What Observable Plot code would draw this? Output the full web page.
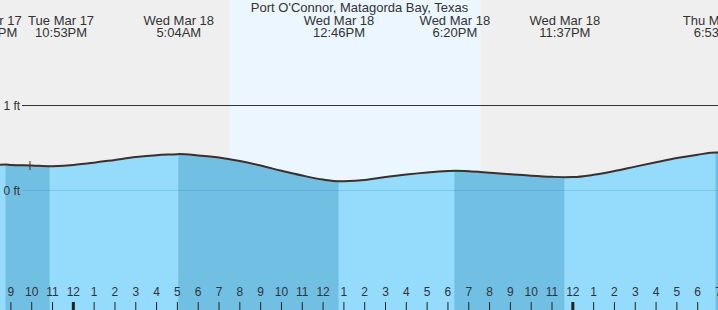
<!DOCTYPE html>
<html><head><meta charset="utf-8">
<script src="https://cdn.jsdelivr.net/npm/d3@7"></script>
<script src="https://cdn.jsdelivr.net/npm/@observablehq/plot@0.6"></script>
<style>
html,body{margin:0;padding:0;background:#fff;}
#chart svg{display:block;}
</style></head><body><div id="chart"></div>
<script>
const title = "Port O'Connor, Matagorda Bay, Texas";
const domainStart = "2026-03-17T20:30";
const domainEnd = "2026-03-19T07:00";
const sunrise = "2026-03-18T07:32";
const sunset = "2026-03-18T19:36";
const nowTime = "2026-03-17T21:55";
const nowLevel = 0.288;

// high / low tide events
const eventTimes = ["2026-03-17T20:46", "2026-03-17T22:53", "2026-03-18T05:04", "2026-03-18T12:46", "2026-03-18T18:20", "2026-03-18T23:37", "2026-03-19T06:53"];
const eventTypes = ["H", "L", "H", "L", "H", "L", "H"];
const eventLevels = [0.305, 0.285, 0.428, 0.109, 0.231, 0.157, 0.448];
const eventDays = ["Tue Mar 17", "Tue Mar 17", "Wed Mar 18", "Wed Mar 18", "Wed Mar 18", "Wed Mar 18", "Thu Mar 19"];
const eventClock = ["8:46PM", "10:53PM", "5:04AM", "12:46PM", "6:20PM", "11:37PM", "6:53AM"];

// hourly water level (ft), 20:00 Mar 17 .. 07:00 Mar 19
const hourlyStart = "2026-03-17T20:00";
const hourlyLevels = [0.302, 0.300, 0.294, 0.286, 0.300, 0.327, 0.360, 0.393, 0.416, 0.427,
  0.413, 0.388, 0.346, 0.293, 0.232, 0.176, 0.129, 0.110, 0.124, 0.158,
  0.187, 0.211, 0.228, 0.226, 0.209, 0.192, 0.174, 0.161, 0.158, 0.185,
  0.229, 0.281, 0.332, 0.382, 0.421, 0.447];

const yTicks = [0, 1];

const colors = {sky: "#efefef", day: "#ebf6fe", water: "#95dbfb", falling: "#71bfe3", ink: "#333"};

const parse = s => new Date(s);
const t0 = parse(domainStart), t1 = parse(domainEnd);
const hStart = parse(hourlyStart);
const hourly = hourlyLevels.map((v, i) => ({time: d3.timeHour.offset(hStart, i), level: v}));
const events = eventTimes.map((t, i) => ({time: parse(t), type: eventTypes[i], level: eventLevels[i], day: eventDays[i], clock: eventClock[i]}));
const tide = hourly.concat(events.map(e => ({time: e.time, level: e.level}))).sort((a, b) => a.time - b.time);

// falling intervals (high -> next low)
const bands = [];
events.forEach((e, i) => {
  if (e.type === "H") bands.push({start: e.time, end: i + 1 < events.length ? events[i + 1].time : t1});
});
const bandData = bands.flatMap((b, k) => tide.filter(d => d.time >= b.start && d.time <= b.end).map(d => ({...d, band: k})));

const hours = d3.timeHour.range(d3.timeHour.ceil(t0), d3.timeHour.offset(t1, 1));

const yMin = -120 / 85, yMax = 190 / 85;

const textBase = {fill: colors.ink, fontSize: 13};

const chart = Plot.plot({
  width: 718, height: 310, margin: 0,
  style: {fontFamily: "'Liberation Sans', Arial, sans-serif", background: colors.sky},
  x: {type: "time", domain: [t0, t1], axis: null},
  y: {domain: [yMin, yMax], axis: null},
  marks: [
    Plot.frame({fill: colors.sky, stroke: null}),
    Plot.rect([{s: parse(sunrise), e: parse(sunset)}], {x1: "s", x2: "e", fill: colors.day}),
    Plot.areaY(tide, {x: "time", y1: () => yMin, y2: "level", fill: colors.water, curve: "monotone-x", clip: true}),
    Plot.areaY(bandData, {x: "time", y1: () => yMin, y2: "level", z: "band", fill: colors.falling, curve: "monotone-x", clip: true}),
    Plot.ruleY([0], {stroke: "rgb(40,130,180)", strokeOpacity: 0.23, insetLeft: 22}),
    Plot.ruleY([1], {stroke: colors.ink, insetLeft: 22}),
    Plot.lineY(tide, {x: "time", y: "level", stroke: colors.ink, strokeWidth: 2, curve: "monotone-x", clip: true}),
    Plot.ruleX([{time: parse(nowTime), level: nowLevel}], {x: "time", y1: d => d.level - 0.053, y2: d => d.level + 0.053, stroke: colors.ink}),
    Plot.text(yTicks, {y: d => d, text: d => `${d} ft`, frameAnchor: "left", textAnchor: "start", dx: 3, dy: 1, fontSize: 12, fill: colors.ink}),
    Plot.ruleX(hours, {x: d => d, insetTop: 302, stroke: "#222", strokeWidth: d => d.getHours() === 0 ? 3 : 1}),
    Plot.text(hours, {x: d => d, text: d => String(d.getHours() % 12 || 12), frameAnchor: "bottom", dy: -14.5, fontSize: 12, fill: colors.ink}),
    Plot.text([title], {frameAnchor: "top", lineAnchor: "bottom", dy: 11.5, ...textBase}),
    // event labels
    Plot.text(events.slice(2), {x: "time", text: "day", frameAnchor: "top", lineAnchor: "bottom", dy: 24, ...textBase}),
    Plot.text(events.slice(2), {x: "time", text: "clock", frameAnchor: "top", lineAnchor: "bottom", dy: 36, ...textBase}),
    Plot.text(events.slice(1, 2), {x: "time", text: "day", frameAnchor: "top", lineAnchor: "bottom", dy: 24, dx: 11, ...textBase}),
    Plot.text(events.slice(1, 2), {x: "time", text: "clock", frameAnchor: "top", lineAnchor: "bottom", dy: 36, dx: 11, ...textBase}),
    Plot.text(events.slice(0, 1), {x: "time", text: "day", frameAnchor: "top", lineAnchor: "bottom", dy: 24, dx: 15.7, textAnchor: "end", ...textBase}),
    Plot.text(events.slice(0, 1), {x: "time", text: "clock", frameAnchor: "top", lineAnchor: "bottom", dy: 36, dx: 11.3, textAnchor: "end", ...textBase})
  ]
});
document.getElementById("chart").appendChild(chart);
</script></body></html>
